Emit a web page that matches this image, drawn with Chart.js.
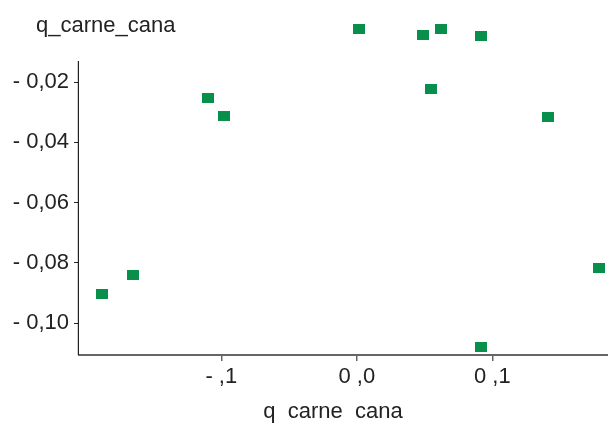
<!DOCTYPE html>
<html>
<head>
<meta charset="utf-8">
<script src="https://cdn.jsdelivr.net/npm/chart.js@4/dist/chart.umd.min.js"></script>
<style>
  html, body { margin: 0; padding: 0; background: #fff; }
  canvas { display: block; }
</style>
</head>
<body>
<canvas id="chart" width="608" height="423"></canvas>
<script>
const xValues = [-0.188, -0.165, -0.110, -0.098, 0.0015, 0.049, 0.062, 0.0915, 0.055, 0.141, 0.0915, 0.179];
const yValues = [-0.0902, -0.0839, -0.0252, -0.0312, -0.0023, -0.0044, -0.0023, -0.0047, -0.0223, -0.0316, -0.1079, -0.0817];

const xTickValues = [-0.1, 0.0, 0.1];
const xTickLabels = ['- ,1', '0 ,0', '0 ,1'];
const yTickValues = [-0.02, -0.04, -0.06, -0.08, -0.10];
const yTickLabels = ['- 0,02', '- 0,04', '- 0,06', '- 0,08', '- 0,10'];

const yTitle = 'q_carne_cana';
const xTitle = 'q  carne  cana';

// the y axis line stops here although some points lie above it
const yAxisLineTop = -0.01304;

const GREEN = '#078f4b';
const FONT = "'Liberation Sans', Arial, sans-serif";

// 12x10 green block used as marker
const marker = document.createElement('canvas');
marker.width = 12;
marker.height = 10;
const mctx = marker.getContext('2d');
mctx.fillStyle = GREEN;
mctx.fillRect(0, 0, 12, 10);

const points = xValues.map((x, i) => ({ x: x, y: yValues[i] }));

const axisPlugin = {
    id: 'axisExtras',
    beforeDatasetsDraw(chart) {
        const { ctx, chartArea, scales } = chart;
        const top = scales.y.getPixelForValue(yAxisLineTop);
        ctx.save();
        ctx.strokeStyle = '#222';
        ctx.lineWidth = 1.2;
        ctx.beginPath();
        ctx.moveTo(chartArea.left - 0.6, top);
        ctx.lineTo(chartArea.left - 0.6, chartArea.bottom);
        ctx.stroke();
        ctx.restore();
    },
    afterDraw(chart) {
        const { ctx, chartArea, scales } = chart;
        const top = scales.y.getPixelForValue(yAxisLineTop);
        ctx.save();
        ctx.fillStyle = '#222';
        ctx.font = '22px ' + FONT;
        ctx.textBaseline = 'alphabetic';
        ctx.textAlign = 'left';
        ctx.fillText(yTitle, chartArea.left - 43, top - 29);
        ctx.textAlign = 'center';
        ctx.fillText(xTitle, chartArea.left + 254, chartArea.bottom + 63);
        ctx.restore();
    }
};

const ctx = document.getElementById('chart');
new Chart(ctx, {
    type: 'scatter',
    data: {
        datasets: [{
            data: points,
            pointStyle: marker,
            pointRadius: 0.5,
            pointHoverRadius: 0.5,
            pointBorderWidth: 0,
            backgroundColor: GREEN,
            borderColor: GREEN,
            clip: false
        }]
    },
    options: {
        responsive: false,
        animation: false,
        layout: { padding: { top: 20, right: 0, bottom: 0, left: 0 } },
        plugins: {
            legend: { display: false },
            tooltip: { enabled: false }
        },
        scales: {
            x: {
                type: 'linear',
                min: -0.205,
                max: 0.185,
                afterFit: (scale) => {
                    scale.height = 68;
                    scale.paddingLeft = 0;
                    scale.paddingRight = 0;
                },
                afterBuildTicks: (scale) => { scale.ticks = xTickValues.map(v => ({ value: v })); },
                ticks: {
                    color: '#222',
                    font: { family: FONT, size: 22 },
                    padding: 3,
                    maxRotation: 0,
                    callback: (v) => {
                        const i = xTickValues.findIndex(t => Math.abs(t - v) < 1e-9);
                        return i >= 0 ? xTickLabels[i] : '';
                    }
                },
                grid: { drawOnChartArea: false, drawTicks: true, tickLength: 6, color: '#666', lineWidth: 1.5 },
                border: { display: true, color: '#666', width: 2 }
            },
            y: {
                type: 'linear',
                min: -0.11051,
                max: 0.00056,
                afterFit: (scale) => {
                    scale.width = 79;
                    scale.paddingTop = 0;
                    scale.paddingBottom = 0;
                },
                afterBuildTicks: (scale) => { scale.ticks = yTickValues.map(v => ({ value: v })); },
                ticks: {
                    color: '#222',
                    font: { family: FONT, size: 22 },
                    padding: 5,
                    callback: (v) => {
                        const i = yTickValues.findIndex(t => Math.abs(t - v) < 1e-9);
                        return i >= 0 ? yTickLabels[i] : '';
                    }
                },
                grid: { drawOnChartArea: false, drawTicks: true, tickLength: 5, color: '#222', lineWidth: 1 },
                border: { display: false }
            }
        }
    },
    plugins: [axisPlugin]
});
</script>
</body>
</html>
